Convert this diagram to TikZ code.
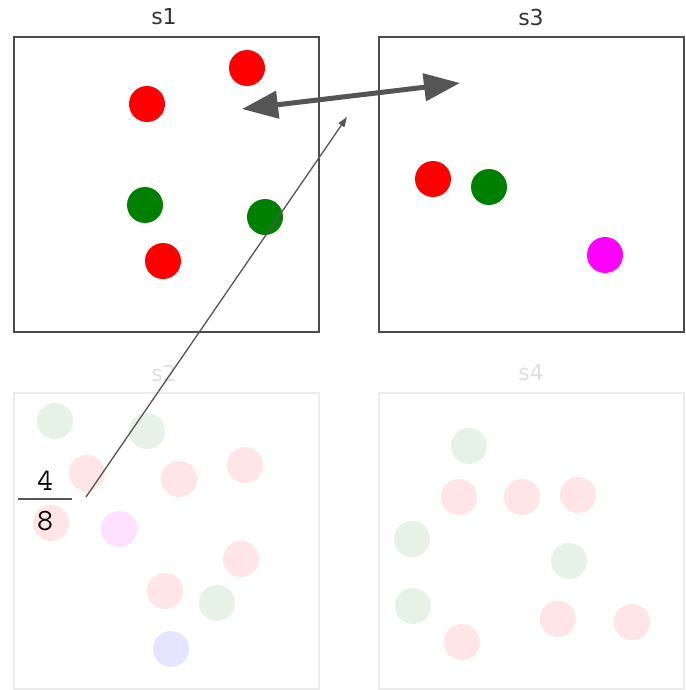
\documentclass[tikz,border=0pt]{standalone}
\usepackage{fontspec}
\newfontfamily\titlefont{DejaVu Sans}
\usepackage{tikz}
\usetikzlibrary{arrows.meta}
\definecolor{cinza}{RGB}{85,85,85}
\definecolor{vermelho}{RGB}{255,0,0}
\definecolor{verde}{RGB}{0,128,0}
\definecolor{rosa}{RGB}{255,0,255}
\definecolor{azul}{RGB}{0,0,255}
\tikzset{
    painel/.style={draw=cinza!90!black, line width=1.4pt},
    painelfraco/.style={draw=gray!15, line width=1.4pt},
    titulo/.style={font=\titlefont\fontsize{22}{22}\selectfont, text=black!80},
    titulofraco/.style={titulo, text=gray!25},
    bola/.style={circle, inner sep=0pt, minimum size=36pt, fill=#1},
    troca/.style={{Triangle[length=36pt,width=27pt]}-{Triangle[length=36pt,width=27pt]}, line width=5pt, draw=cinza},
    ligacao/.style={-{Triangle[length=10pt,width=7pt]}, line width=1.3pt, draw=cinza},
    fracao/.style={font=\ttfamily\fontsize{31}{31}\selectfont}
}
\begin{document}
\begin{tikzpicture}[x=1pt, y=-1pt]
    \useasboundingbox (0,0) rectangle (685,690);
    % paineis
    \draw[painel] (14,37) rectangle (319,332);
    \draw[painel] (379,37) rectangle (684,332);
    \draw[painelfraco] (14,393) rectangle (319,689);
    \draw[painelfraco] (379,393) rectangle (684,689);
    \node[titulo] (t1) at (164,17) {s1};
    \node[titulo] (t3) at (531,17) {s3};
    \node[titulofraco] (t2) at (164,373) {s2};
    \node[titulofraco] (t4) at (531,373) {s4};

    % s1
    \node[bola=vermelho] (a1) at (247,68) {};
    \node[bola=vermelho] (a2) at (147,104) {};
    \node[bola=verde] (a3) at (145,205) {};
    \node[bola=verde] (a4) at (265,217) {};
    \node[bola=vermelho] (a5) at (163,261) {};

    % s3
    \node[bola=vermelho] (c1) at (433,179) {};
    \node[bola=verde] (c2) at (489,187) {};
    \node[bola=rosa] (c3) at (605,255) {};

    % s2 (esmaecido)
    \node[bola=verde!10] (b1) at (55,421) {};
    \node[bola=verde!10] (b2) at (147,431) {};
    \node[bola=vermelho!10] (b3) at (87,473) {};
    \node[bola=vermelho!10] (b4) at (179,479) {};
    \node[bola=vermelho!10] (b5) at (245,465) {};
    \node[bola=vermelho!10] (b6) at (51,523) {};
    \node[bola=rosa!12] (b7) at (119,529) {};
    \node[bola=vermelho!10] (b8) at (241,559) {};
    \node[bola=vermelho!10] (b9) at (165,591) {};
    \node[bola=verde!10] (b10) at (217,603) {};
    \node[bola=azul!10] (b11) at (171,649) {};

    % s4 (esmaecido)
    \node[bola=verde!10] (d1) at (469,446) {};
    \node[bola=vermelho!10] (d2) at (459,497) {};
    \node[bola=vermelho!10] (d3) at (522,497) {};
    \node[bola=vermelho!10] (d4) at (578,495) {};
    \node[bola=verde!10] (d5) at (412,539) {};
    \node[bola=verde!10] (d6) at (569,561) {};
    \node[bola=verde!10] (d7) at (413,606) {};
    \node[bola=vermelho!10] (d8) at (558,619) {};
    \node[bola=vermelho!10] (d9) at (632,622) {};
    \node[bola=vermelho!10] (d10) at (462,642) {};

    % fracao
    \node[fracao] (num) at (45,481) {4};
    \node[fracao] (den) at (45,521) {8};
    \coordinate (fracE) at (18,499);
    \coordinate (fracD) at (72,499);
    \draw[cinza, line width=1.3pt] (fracE) -- (fracD);

    % setas
    \coordinate (origem) at (86,497);
    \coordinate (alvo) at (347,117);
    \coordinate (trocaE) at (242,109);
    \coordinate (trocaD) at (460,83);
    \draw[troca] (trocaE) -- (trocaD);
    \draw[ligacao] (origem) -- (alvo);
\end{tikzpicture}
\end{document}
